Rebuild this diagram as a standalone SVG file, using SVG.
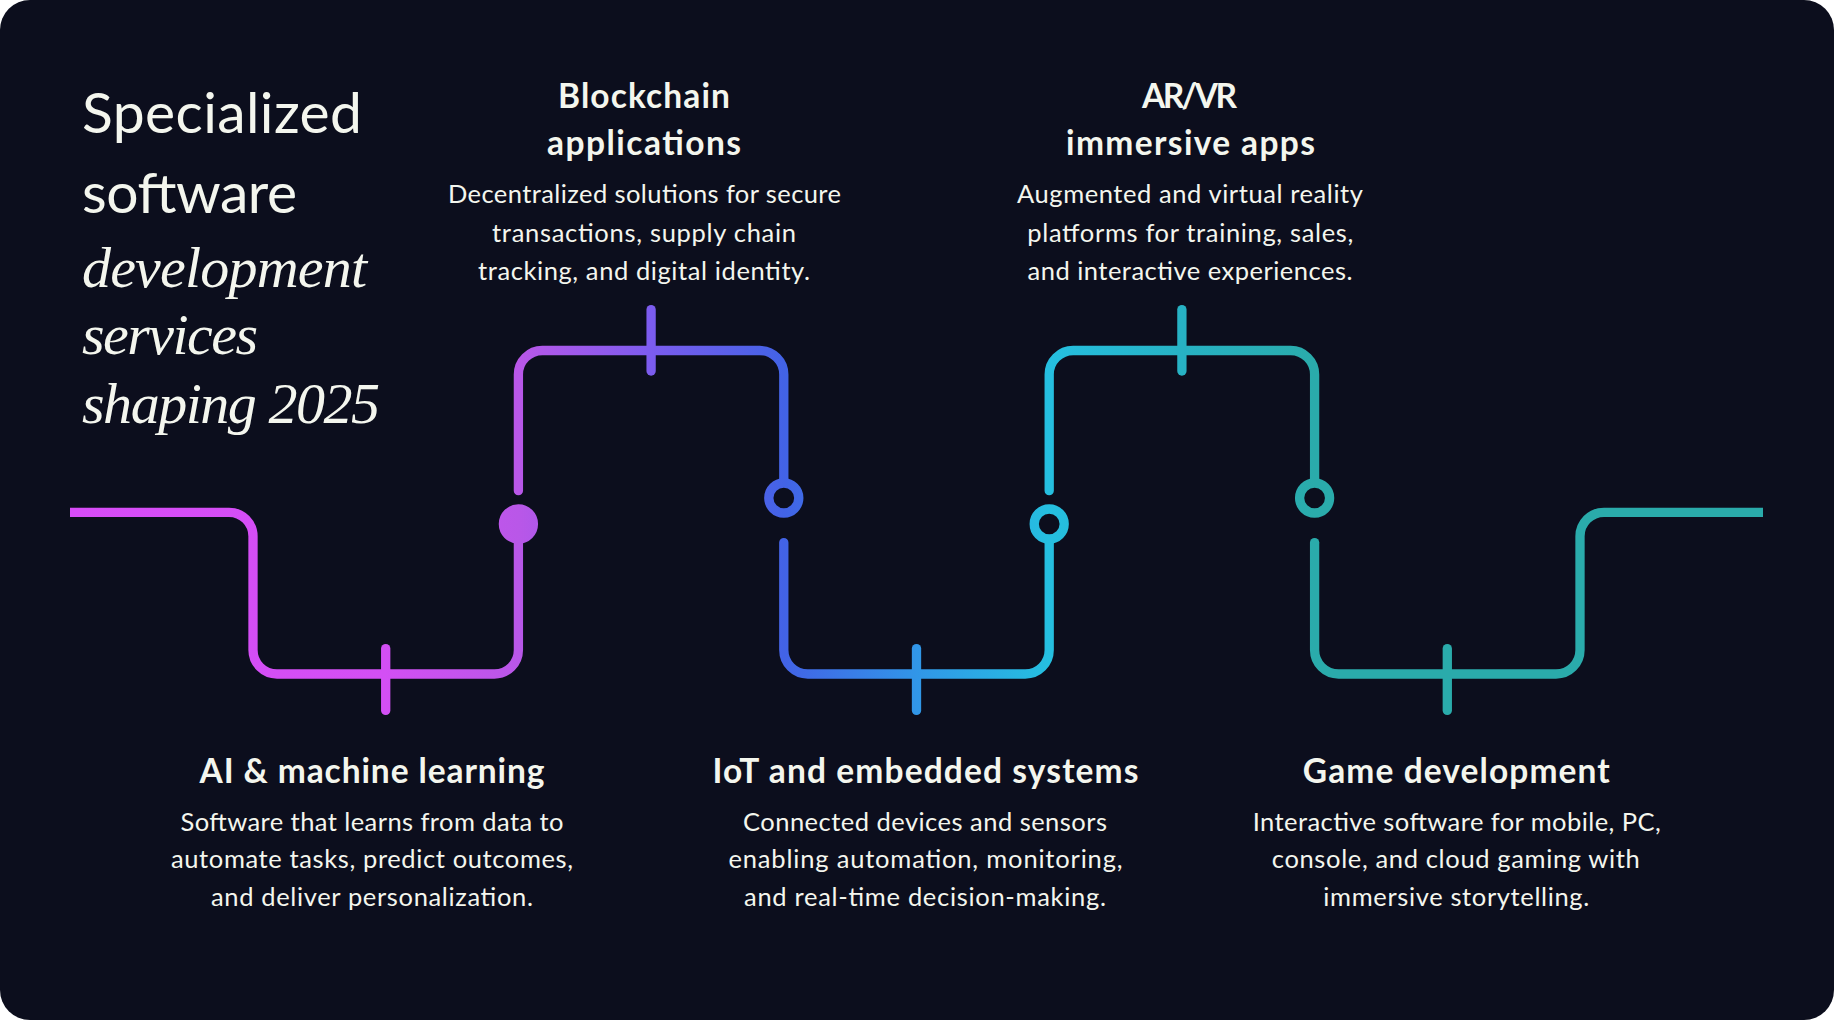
<svg xmlns="http://www.w3.org/2000/svg" width="1834" height="1020" viewBox="0 0 1834 1020">
  <defs>
    <linearGradient id="flow" gradientUnits="userSpaceOnUse" x1="70" y1="0" x2="1763" y2="0">
      <stop offset="0" stop-color="#d84cf8"/>
      <stop offset="0.186" stop-color="#d34ff4"/>
      <stop offset="0.265" stop-color="#b957e8"/>
      <stop offset="0.343" stop-color="#7c5cee"/>
      <stop offset="0.422" stop-color="#4263e6"/>
      <stop offset="0.5" stop-color="#3196e8"/>
      <stop offset="0.578" stop-color="#25bfe0"/>
      <stop offset="0.657" stop-color="#27b2c4"/>
      <stop offset="0.735" stop-color="#2aabab"/>
      <stop offset="1" stop-color="#2aabab"/>
    </linearGradient>
    <style>
      .bg { fill: #0c0e1d; }
      .ln { fill: none; stroke: url(#flow); stroke-width: 9.3; stroke-linejoin: round; }
      .rc { stroke-linecap: round; }
      .bc { stroke-linecap: butt; }
      .ring { fill: none; stroke: url(#flow); stroke-width: 9.3; }
      .dot { fill: url(#flow); stroke: url(#flow); stroke-width: 9.3; }
      .tick { stroke: url(#flow); stroke-width: 9.3; stroke-linecap: round; }
      .h { font-family: Lato, "Liberation Sans", sans-serif; font-weight: 700; font-size: 33.5px; fill: #f4f6ee; text-anchor: middle; }
      .b { font-family: Lato, "Liberation Sans", sans-serif; font-weight: 400; font-size: 25.5px; fill: #f4f6ee; text-anchor: middle; }
      .t1 { font-family: Lato, "Liberation Sans", sans-serif; font-weight: 400; font-size: 57px; fill: #f4f6ee; }
      .t2 { font-family: "Liberation Serif", "DejaVu Serif", serif; font-style: italic; font-size: 58px; fill: #f4f6ee; }
    </style>
  </defs>

  <rect class="bg" x="0" y="0" width="1834" height="1020" rx="30" ry="30"/>

  <g id="title">
    <text class="t1" x="82" y="133" textLength="280">Specialized</text>
    <text class="t1" x="82" y="213" textLength="215">software</text>
    <text class="t2" x="82" y="287" textLength="285">development</text>
    <text class="t2" x="82" y="354" textLength="176">services</text>
    <text class="t2" x="82" y="423" textLength="298">shaping 2025</text>
  </g>

  <g id="connectors">
    <path class="ln bc" d="M70,512.3 H229 A24,24 0 0 1 253,536.3 V650 A24,24 0 0 0 277,674 H494.4 A24,24 0 0 0 518.4,650 V524"/>
    <path class="ln rc" d="M518.4,490.7 V374.5 A24,24 0 0 1 542.4,350.5 H759.8 A24,24 0 0 1 783.8,374.5 V482"/>
    <path class="ln rc" d="M783.8,542.6 V650 A24,24 0 0 0 807.8,674 H1025.2 A24,24 0 0 0 1049.2,650 V540"/>
    <path class="ln rc" d="M1049.2,490.7 V374.5 A24,24 0 0 1 1073.2,350.5 H1290.6 A24,24 0 0 1 1314.6,374.5 V482"/>
    <path class="ln bc" d="M1314.6,542.6 V650 A24,24 0 0 0 1338.6,674 H1556 A24,24 0 0 0 1580,650 V536.3 A24,24 0 0 1 1604,512.3 H1763"/>
    <circle cx="1314.6" cy="542.6" r="4.65" fill="url(#flow)"/>
  </g>

  <g id="node-ai">
    <line class="tick" x1="385.7" y1="648.6" x2="385.7" y2="710.4"/>
    <circle class="dot" cx="518.4" cy="524" r="15"/>
    <text class="h" x="372" y="783" textLength="345">AI &amp; machine learning</text>
    <text class="b" x="372" y="831" textLength="383">Software that learns from data to</text>
    <text class="b" x="372" y="868" textLength="402">automate tasks, predict outcomes,</text>
    <text class="b" x="372" y="906" textLength="322">and deliver personalization.</text>
  </g>

  <g id="node-blockchain">
    <line class="tick" x1="651.1" y1="309.6" x2="651.1" y2="371"/>
    <circle class="ring" cx="783.8" cy="498" r="15"/>
    <text class="h" x="644" y="108" textLength="172">Blockchain</text>
    <text class="h" x="644" y="155" textLength="194">applications</text>
    <text class="b" x="644.5" y="203" textLength="393">Decentralized solutions for secure</text>
    <text class="b" x="644" y="241.5" textLength="304">transactions, supply chain</text>
    <text class="b" x="644" y="280" textLength="332">tracking, and digital identity.</text>
  </g>

  <g id="node-iot">
    <line class="tick" x1="916.5" y1="648.6" x2="916.5" y2="710.4"/>
    <circle class="ring" cx="1049.2" cy="524" r="15"/>
    <text class="h" x="925.5" y="783" textLength="426">IoT and embedded systems</text>
    <text class="b" x="925" y="831" textLength="364">Connected devices and sensors</text>
    <text class="b" x="925.5" y="868" textLength="394">enabling automation, monitoring,</text>
    <text class="b" x="925" y="906" textLength="362">and real-time decision-making.</text>
  </g>

  <g id="node-arvr">
    <line class="tick" x1="1181.9" y1="309.6" x2="1181.9" y2="371"/>
    <circle class="ring" cx="1314.6" cy="498" r="15"/>
    <text class="h" x="1189.5" y="108" textLength="95">AR/VR</text>
    <text class="h" x="1190.5" y="155" textLength="249">immersive apps</text>
    <text class="b" x="1190" y="203" textLength="346">Augmented and virtual reality</text>
    <text class="b" x="1190.3" y="241.5" textLength="326">platforms for training, sales,</text>
    <text class="b" x="1190" y="280" textLength="325">and interactive experiences.</text>
  </g>

  <g id="node-game">
    <line class="tick" x1="1447.3" y1="648.6" x2="1447.3" y2="710.4"/>
    <text class="h" x="1456.3" y="783" textLength="307">Game development</text>
    <text class="b" x="1456.7" y="831" textLength="408">Interactive software for mobile, PC,</text>
    <text class="b" x="1455.8" y="868" textLength="368">console, and cloud gaming with</text>
    <text class="b" x="1456.3" y="906" textLength="266">immersive storytelling.</text>
  </g>
</svg>
